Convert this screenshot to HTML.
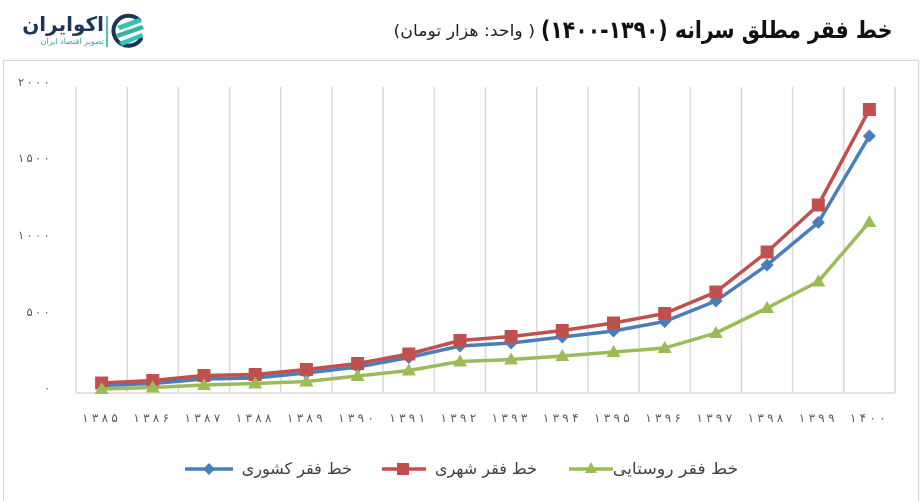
<!DOCTYPE html>
<html>
<head>
<meta charset="utf-8">
<style>
  html,body{margin:0;padding:0;background:#fff;}
  body{width:924px;height:493px;position:relative;overflow:hidden;font-family:"Liberation Sans","DejaVu Sans",sans-serif;}
  .abs{position:absolute;white-space:nowrap;}
  .rtl{direction:rtl;}
  .box{position:absolute;left:3px;top:60px;width:914px;height:440px;border:1px solid #d6d6d6;border-bottom:none;box-shadow:0 -1px 2px rgba(0,0,0,0.06);}
</style>
</head>
<body>

<!-- Logo -->
<svg class="abs" style="left:108px;top:12px" width="40" height="38" viewBox="0 0 40 38">
  <path d="M31 8 A15 15 0 1 0 33 27" fill="none" stroke="#1d3557" stroke-width="4" stroke-linecap="round"/>
  <polygon points="9,14 31,6 34,10 12,18" fill="#2ec4b6"/>
  <polygon points="8,22 34,13 36,17 10,26" fill="#34b3a0"/>
  <polygon points="11,30 34,21 35,25 14,34" fill="#2ec4b6"/>
</svg>
<div class="abs" style="left:106px;top:16px;width:2px;height:31px;background:#5bbfb0;"></div>
<div class="abs rtl" style="left:18px;top:11px;width:86px;text-align:right;font:bold 20px 'DejaVu Sans',sans-serif;color:#1d3557;line-height:26px;">اکوایران</div>
<div class="abs rtl" style="left:18px;top:37px;width:86px;text-align:right;font:8px 'DejaVu Sans',sans-serif;color:#3aa89a;line-height:10px;">تصویر اقتصاد ایران</div>

<!-- Title -->
<div class="abs rtl" style="right:32px;top:12px;font:bold 24px 'DejaVu Sans',sans-serif;color:#111;line-height:36px;transform:scaleX(0.85);transform-origin:100% 50%;">خط فقر مطلق سرانه (۱۳۹۰-۱۴۰۰)</div>
<div class="abs rtl" style="right:389px;top:19px;font:16px 'DejaVu Sans',sans-serif;color:#222;line-height:24px;transform:scaleX(1.08);transform-origin:100% 50%;">( واحد: هزار تومان)</div>

<div class="box"></div>

<svg class="abs" style="left:0;top:0" width="924" height="493" viewBox="0 0 924 493">
  <defs>
    <marker id="mb" markerUnits="userSpaceOnUse" markerWidth="16" markerHeight="16" refX="8" refY="8" overflow="visible">
      <path d="M8,1.5 L14.5,8 L8,14.5 L1.5,8 Z" fill="#4a7ebb"/>
    </marker>
    <marker id="mr" markerUnits="userSpaceOnUse" markerWidth="16" markerHeight="16" refX="8" refY="8" overflow="visible">
      <rect x="1.5" y="1.5" width="13" height="13" fill="#c0504d"/>
    </marker>
    <marker id="mg" markerUnits="userSpaceOnUse" markerWidth="16" markerHeight="16" refX="8" refY="8" overflow="visible">
      <path d="M8,1 L15,13 L1,13 Z" fill="#9bbb59"/>
    </marker>
  </defs>

  <!-- gridlines -->
  <g stroke="#d9d9d9" stroke-width="1.5">
    <line x1="76" y1="87" x2="76" y2="393"/>
    <line x1="127.2" y1="87" x2="127.2" y2="393"/>
    <line x1="178.4" y1="87" x2="178.4" y2="393"/>
    <line x1="229.6" y1="87" x2="229.6" y2="393"/>
    <line x1="280.8" y1="87" x2="280.8" y2="393"/>
    <line x1="331.9" y1="87" x2="331.9" y2="393"/>
    <line x1="383.1" y1="87" x2="383.1" y2="393"/>
    <line x1="434.3" y1="87" x2="434.3" y2="393"/>
    <line x1="485.5" y1="87" x2="485.5" y2="393"/>
    <line x1="536.7" y1="87" x2="536.7" y2="393"/>
    <line x1="587.9" y1="87" x2="587.9" y2="393"/>
    <line x1="639.1" y1="87" x2="639.1" y2="393"/>
    <line x1="690.3" y1="87" x2="690.3" y2="393"/>
    <line x1="741.4" y1="87" x2="741.4" y2="393"/>
    <line x1="792.6" y1="87" x2="792.6" y2="393"/>
    <line x1="843.8" y1="87" x2="843.8" y2="393"/>
    <line x1="895" y1="87" x2="895" y2="393"/>
    <line x1="76" y1="393" x2="895" y2="393"/>
  </g>

  <!-- y labels -->
  <g font-family="'DejaVu Sans',sans-serif" font-size="11.5" fill="#595959">
    <text x="18 26.5 35 43.5" y="86">۲۰۰۰</text>
    <text x="18 26.5 35 43.5" y="162">۱۵۰۰</text>
    <text x="18 26.5 35 43.5" y="239">۱۰۰۰</text>
    <text x="26.5 35 43.5" y="316">۵۰۰</text>
    <text x="44" y="392">۰</text>
  </g>

  <!-- x labels -->
  <g font-family="'DejaVu Sans',sans-serif" font-size="12" fill="#595959">
    <text x="82.1 91.9 101.6 111.4" y="422">۱۳۸۵</text>
    <text x="133.3 143.1 152.8 162.6" y="422">۱۳۸۶</text>
    <text x="184.5 194.3 204.0 213.8" y="422">۱۳۸۷</text>
    <text x="235.7 245.5 255.2 265.0" y="422">۱۳۸۸</text>
    <text x="286.9 296.7 306.4 316.2" y="422">۱۳۸۹</text>
    <text x="338.1 347.9 357.6 367.4" y="422">۱۳۹۰</text>
    <text x="389.3 399.1 408.8 418.6" y="422">۱۳۹۱</text>
    <text x="440.5 450.3 460.0 469.8" y="422">۱۳۹۲</text>
    <text x="491.6 501.4 511.1 520.9" y="422">۱۳۹۳</text>
    <text x="542.8 552.6 562.3 572.1" y="422">۱۳۹۴</text>
    <text x="594.0 603.8 613.5 623.3" y="422">۱۳۹۵</text>
    <text x="645.2 655.0 664.7 674.5" y="422">۱۳۹۶</text>
    <text x="696.4 706.2 715.9 725.7" y="422">۱۳۹۷</text>
    <text x="747.6 757.4 767.1 776.9" y="422">۱۳۹۸</text>
    <text x="798.8 808.6 818.3 828.1" y="422">۱۳۹۹</text>
    <text x="849.9 859.7 869.4 879.2" y="422">۱۴۰۰</text>
  </g>

  <!-- series -->
  <polyline fill="none" stroke="#4a7ebb" stroke-width="3.5" stroke-linejoin="round"
    marker-start="url(#mb)" marker-mid="url(#mb)" marker-end="url(#mb)"
    points="101.6,385.5 152.8,383.5 204,379 255.2,378 306.4,373 357.6,367 408.8,357.5 460,346 511.1,343 562.3,337 613.5,331 664.7,321.5 715.9,301 767.1,265 818.3,222.5 869.4,136"/>
  <polyline fill="none" stroke="#c0504d" stroke-width="3.5" stroke-linejoin="round"
    marker-start="url(#mr)" marker-mid="url(#mr)" marker-end="url(#mr)"
    points="101.6,383 152.8,380.5 204,375.5 255.2,374.5 306.4,369.5 357.6,363.5 408.8,354 460,340.5 511.1,336.5 562.3,330.5 613.5,323 664.7,313.5 715.9,292 767.1,252 818.3,205 869.4,109.5"/>
  <polyline fill="none" stroke="#9bbb59" stroke-width="3.5" stroke-linejoin="round"
    marker-start="url(#mg)" marker-mid="url(#mg)" marker-end="url(#mg)"
    points="101.6,389 152.8,387.5 204,385 255.2,383.5 306.4,381.5 357.6,376 408.8,370.5 460,361.5 511.1,359.5 562.3,356 613.5,352 664.7,348 715.9,333 767.1,308 818.3,281.5 869.4,222"/>

  <!-- legend lines -->
  <line x1="185" y1="469" x2="233" y2="469" stroke="#4a7ebb" stroke-width="3.5"/>
  <path d="M209,463 L215,469 L209,475 L203,469 Z" fill="#4a7ebb"/>
  <line x1="382" y1="469" x2="426" y2="469" stroke="#c0504d" stroke-width="3.5"/>
  <rect x="397" y="463" width="12" height="12" fill="#c0504d"/>
  <line x1="569" y1="469" x2="613" y2="469" stroke="#9bbb59" stroke-width="3.5"/>
  <path d="M591,462 L597,473 L585,473 Z" fill="#9bbb59"/>
</svg>

<!-- legend text -->
<div class="abs rtl" style="right:572px;top:457px;font:16px 'DejaVu Sans',sans-serif;color:#404040;line-height:24px;">خط فقر کشوری</div>
<div class="abs rtl" style="right:387px;top:457px;font:16px 'DejaVu Sans',sans-serif;color:#404040;line-height:24px;">خط فقر شهری</div>
<div class="abs rtl" style="right:186px;top:457px;font:16px 'DejaVu Sans',sans-serif;color:#404040;line-height:24px;transform:scaleX(1.08);transform-origin:100% 50%;">خط فقر روستایی</div>

</body>
</html>
